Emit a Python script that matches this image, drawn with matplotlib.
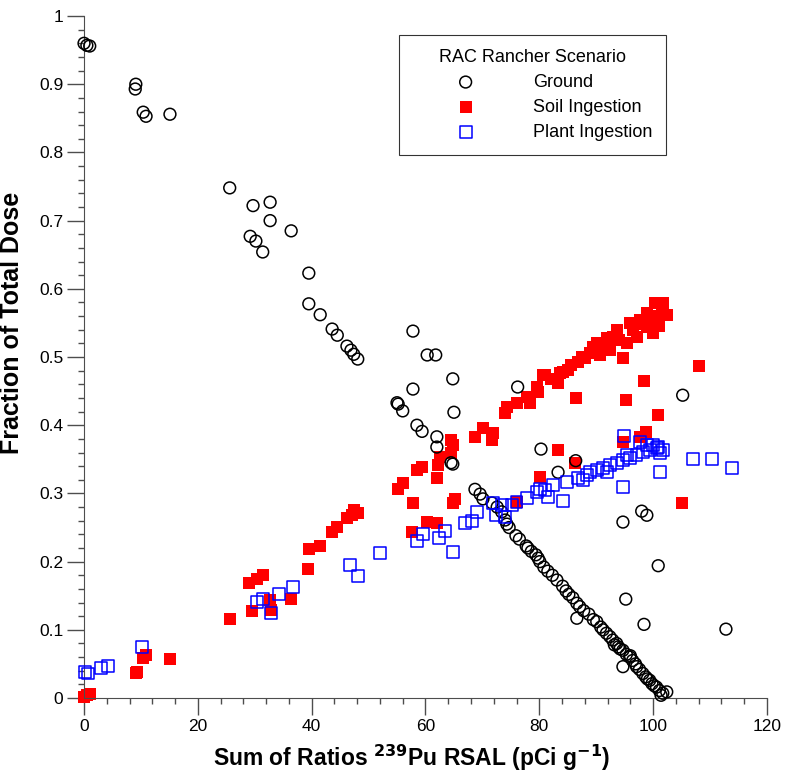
import matplotlib.pyplot as plt
from matplotlib.ticker import MultipleLocator

plt.rcParams['font.family'] = ['Liberation Sans', 'DejaVu Sans']

# ---------------------------------------------------------
# Values
# ---------------------------------------------------------
ground_x = [0.0, 0.5, 1.0, 9.1, 9.0, 10.4, 10.9, 15.1, 25.6, 29.2, 29.7, 30.2,
            31.4, 32.7, 32.7, 36.4, 39.5, 39.5, 41.5, 43.6, 44.5, 46.2, 46.9,
            47.4, 48.1, 55.0, 55.2, 56.0, 57.8, 57.8, 58.5, 59.4, 60.3, 61.8,
            62.0, 62.0, 64.5, 64.8, 64.8, 65.0, 68.7, 69.6, 70.1, 71.7, 72.6,
            73.4, 74.0, 74.3, 74.7, 75.9, 76.2, 76.5, 77.7, 78.0, 78.6, 79.4,
            79.8, 80.1, 80.3, 80.8, 81.5, 82.3, 83.1, 83.3, 84.1, 84.7, 85.2,
            85.9, 86.4, 86.6, 86.6, 87.1, 87.8, 88.7, 89.5, 90.1, 90.8, 91.2,
            91.8, 92.4, 92.9, 93.2, 93.6, 93.9, 94.2, 94.7, 94.7, 94.7, 95.2,
            95.3, 95.9, 96.0, 96.4, 96.9, 97.1, 97.6, 98.0, 98.2, 98.4, 98.7,
            98.9, 99.0, 99.4, 99.8, 100.2, 100.6, 100.9, 101.1, 101.4, 101.7,
            102.4, 105.2, 112.8]
ground_y = [0.960, 0.957, 0.956, 0.900, 0.893, 0.859, 0.853, 0.856, 0.748, 0.677,
            0.722, 0.670, 0.654, 0.727, 0.700, 0.685, 0.623, 0.578, 0.562, 0.541,
            0.532, 0.516, 0.510, 0.504, 0.497, 0.433, 0.431, 0.421, 0.538, 0.453,
            0.400, 0.391, 0.503, 0.503, 0.383, 0.368, 0.345, 0.343, 0.468, 0.419,
            0.306, 0.299, 0.292, 0.286, 0.280, 0.273, 0.261, 0.255, 0.250, 0.238,
            0.456, 0.233, 0.223, 0.220, 0.215, 0.210, 0.205, 0.200, 0.365, 0.192,
            0.186, 0.180, 0.173, 0.331, 0.164, 0.157, 0.152, 0.147, 0.348, 0.139,
            0.117, 0.134, 0.128, 0.123, 0.115, 0.112, 0.104, 0.100, 0.095, 0.090,
            0.085, 0.078, 0.080, 0.075, 0.072, 0.070, 0.046, 0.258, 0.145, 0.064,
            0.060, 0.062, 0.055, 0.050, 0.046, 0.042, 0.274, 0.036, 0.108, 0.031,
            0.268, 0.028, 0.026, 0.021, 0.018, 0.016, 0.194, 0.011, 0.004, 0.007,
            0.009, 0.444, 0.101]

soil_x = [0.0, 0.5, 1.0, 9.1, 9.3, 10.4, 10.9, 15.1, 25.6, 29.0, 29.5, 30.4,
          31.5, 32.7, 32.8, 36.4, 39.4, 39.5, 41.5, 43.6, 44.4, 46.2, 47.1,
          47.4, 48.1, 55.2, 56.1, 57.6, 57.8, 58.5, 59.4, 60.3, 62.0, 62.0,
          62.2, 62.5, 64.5, 64.5, 64.8, 64.8, 65.2, 68.7, 70.1, 71.7, 71.9,
          74.0, 74.3, 76.0, 76.0, 77.8, 78.4, 79.6, 79.8, 80.1, 80.7, 81.0,
          82.0, 83.3, 83.3, 83.6, 84.2, 85.0, 85.5, 86.3, 86.5, 86.8, 87.5,
          88.0, 88.9, 89.5, 90.1, 90.7, 91.0, 91.9, 92.4, 93.0, 93.6, 94.0,
          94.7, 94.7, 95.2, 95.4, 95.9, 96.5, 97.2, 97.7, 97.7, 98.0, 98.4,
          98.7, 98.9, 99.0, 99.4, 100.0, 100.3, 100.5, 100.8, 101.0, 101.5,
          101.7, 102.4, 105.1, 108.0]
soil_y = [0.002, 0.004, 0.006, 0.036, 0.038, 0.059, 0.063, 0.057, 0.116, 0.169,
          0.128, 0.174, 0.180, 0.144, 0.129, 0.145, 0.189, 0.218, 0.223, 0.243,
          0.251, 0.264, 0.268, 0.276, 0.271, 0.306, 0.315, 0.243, 0.286, 0.334,
          0.339, 0.258, 0.257, 0.323, 0.342, 0.353, 0.378, 0.359, 0.371, 0.286,
          0.292, 0.383, 0.396, 0.378, 0.389, 0.418, 0.427, 0.432, 0.287, 0.441,
          0.432, 0.456, 0.449, 0.324, 0.474, 0.474, 0.468, 0.462, 0.364, 0.476,
          0.478, 0.481, 0.488, 0.345, 0.440, 0.493, 0.500, 0.498, 0.506, 0.514,
          0.521, 0.503, 0.520, 0.528, 0.510, 0.530, 0.540, 0.525, 0.499, 0.375,
          0.437, 0.521, 0.550, 0.540, 0.529, 0.554, 0.383, 0.548, 0.465, 0.390,
          0.544, 0.565, 0.554, 0.535, 0.579, 0.560, 0.415, 0.545, 0.570, 0.579,
          0.562, 0.286, 0.487]

plant_x = [0.2, 0.7, 3.0, 4.2, 10.2, 30.4, 31.5, 32.8, 34.3, 36.7, 46.7, 48.1,
           52.0, 58.5, 59.6, 62.4, 63.4, 64.8, 66.9, 68.2, 69.0, 71.9, 72.4,
           73.4, 74.0, 75.2, 76.0, 77.8, 79.6, 80.1, 81.0, 81.5, 82.4, 84.2,
           84.9, 86.8, 87.7, 88.4, 88.9, 90.1, 91.2, 91.9, 92.4, 93.6, 94.7,
           94.7, 94.9, 95.4, 95.9, 97.1, 97.7, 98.2, 98.9, 99.4, 100.0, 100.7,
           100.8, 101.2, 101.2, 101.7, 107.0, 110.3, 113.9]
plant_y = [0.038, 0.036, 0.044, 0.047, 0.075, 0.141, 0.145, 0.125, 0.153, 0.163,
           0.195, 0.179, 0.213, 0.230, 0.240, 0.235, 0.245, 0.214, 0.257, 0.259,
           0.273, 0.286, 0.268, 0.283, 0.265, 0.283, 0.287, 0.293, 0.302, 0.306,
           0.305, 0.295, 0.312, 0.289, 0.317, 0.323, 0.320, 0.327, 0.331, 0.334,
           0.337, 0.331, 0.342, 0.345, 0.349, 0.309, 0.384, 0.356, 0.352, 0.356,
           0.375, 0.361, 0.371, 0.364, 0.371, 0.367, 0.368, 0.359, 0.331, 0.364,
           0.350, 0.350, 0.337]

# ---------------------------------------------------------
# Figure
# ---------------------------------------------------------
fig = plt.figure(figsize=(7.89, 7.78), dpi=100)
ax = fig.add_axes([0.1065, 0.1028, 0.8655, 0.8766])

ax.scatter(soil_x, soil_y, s=72, marker='s', color='#ff0000', linewidths=0,
           label='Soil Ingestion', clip_on=False, zorder=2)
ax.scatter(ground_x, ground_y, s=72, marker='o', facecolors='none',
           edgecolors='black', linewidths=1.1, label='Ground', clip_on=False, zorder=3)
ax.scatter(plant_x, plant_y, s=72, marker='s', facecolors='none',
           edgecolors='#0000ff', linewidths=1.1, label='Plant Ingestion',
           clip_on=False, zorder=4)

ax.set_xlim(0, 120)
ax.set_ylim(0, 1)
ax.xaxis.set_major_locator(MultipleLocator(20))
ax.xaxis.set_minor_locator(MultipleLocator(4))
ax.yaxis.set_minor_locator(MultipleLocator(0.02))
ax.set_yticks([i / 10 for i in range(11)])
ax.set_yticklabels(['0', '0.1', '0.2', '0.3', '0.4', '0.5', '0.6', '0.7',
                    '0.8', '0.9', '1'])

for side in ['top', 'right']:
    ax.spines[side].set_visible(False)
for side in ['left', 'bottom']:
    ax.spines[side].set_color('0.3')
ax.tick_params(which='major', length=12, width=1, color='0.3',
               labelsize=12.5, pad=3)
ax.tick_params(which='minor', length=4, width=1, color='0.3')

ax.set_xlabel('Sum of Ratios $^{\\mathbf{239}}$Pu RSAL (pCi g$^{\\mathbf{-1}}$)',
              fontsize=16.5, fontweight='bold')
ax.xaxis.set_label_coords(0.48, -0.066)
ax.set_ylabel('Fraction of Total Dose', fontsize=18, fontweight='bold')
ax.yaxis.set_label_coords(-0.088, 0.55)

handles, labels = ax.get_legend_handles_labels()
order = [1, 0, 2]
leg = ax.legend([handles[i] for i in order], [labels[i] for i in order],
                title='RAC Rancher Scenario', loc='upper left',
                bbox_to_anchor=(0.461, 0.972), fontsize=13, title_fontsize=13,
                frameon=True, fancybox=False, edgecolor='black',
                handlelength=5.9, handletextpad=0.8, borderpad=0.75,
                labelspacing=0.45, borderaxespad=0)
leg.get_frame().set_linewidth(0.8)

fig.savefig('out.png', dpi=100)
